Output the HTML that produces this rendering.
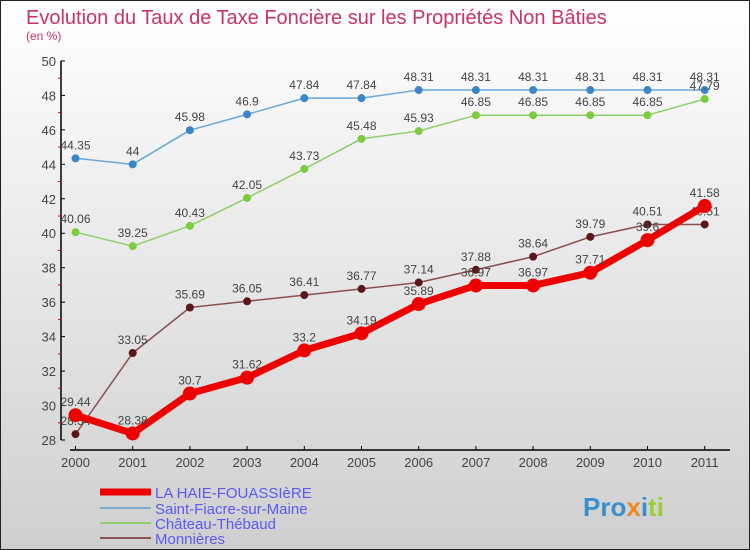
<!DOCTYPE html>
<html><head><meta charset="utf-8"><style>
body{margin:0}
#c{width:750px;height:550px;position:relative;overflow:hidden;font-family:"Liberation Sans",sans-serif}
</style></head><body>
<div id="c">
<svg id="s" width="750" height="550" xmlns="http://www.w3.org/2000/svg">
<defs><linearGradient id="bg" x1="0" y1="0" x2="0" y2="1"><stop offset="0" stop-color="#ffffff"/><stop offset="1" stop-color="#cfcfcf"/></linearGradient></defs>
<rect x="0.5" y="0.5" width="749" height="549" fill="url(#bg)" stroke="#222"/>
<text x="26" y="24" font-size="20" fill="#c8336a">Evolution du Taux de Taxe Foncière sur les Propriétés Non Bâties</text>
<text x="26" y="40" font-size="12" fill="#c8336a">(en %)</text>
<g id="axes"></g><g id="series"></g>
<g>
<line x1="100" y1="492" x2="151" y2="492" stroke="#ee0000" stroke-width="7"/>
<text x="155" y="498" font-size="15" fill="#5a5af0">LA HAIE-FOUASSIèRE</text>
<line x1="100" y1="508" x2="151" y2="508" stroke="#7aaed0" stroke-width="2"/>
<text x="155" y="514" font-size="15" fill="#5a5af0">Saint-Fiacre-sur-Maine</text>
<line x1="100" y1="523" x2="151" y2="523" stroke="#90d070" stroke-width="2"/>
<text x="155" y="529" font-size="15" fill="#5a5af0">Château-Thébaud</text>
<line x1="100" y1="538" x2="151" y2="538" stroke="#8a5555" stroke-width="2"/>
<text x="155" y="544" font-size="15" fill="#5a5af0">Monnières</text>
</g>
<g font-size="26" font-weight="bold">
<text x="583" y="516"><tspan fill="#3a8fd0">Pro</tspan><tspan fill="#f08a20">x</tspan><tspan fill="#3a8fd0">i</tspan><tspan fill="#9acd32">ti</tspan></text>
</g>
</svg></div>
<script>
const years=["2000","2001","2002","2003","2004","2005","2006","2007","2008","2009","2010","2011"];
const laHaie=[29.44,28.38,30.7,31.62,33.2,34.19,35.89,36.97,36.97,37.71,39.6,41.58];
const saintFiacre=[44.35,44,45.98,46.9,47.84,47.84,48.31,48.31,48.31,48.31,48.31,48.31];
const chateau=[40.06,39.25,40.43,42.05,43.73,45.48,45.93,46.85,46.85,46.85,46.85,47.79];
const monnieres=[28.34,33.05,35.69,36.05,36.41,36.77,37.14,37.88,38.64,39.79,40.51,40.51];
const yTicks=[28,30,32,34,36,38,40,42,44,46,48,50];
const NS="http://www.w3.org/2000/svg";
const x=i=>75.5+i*57.2;
const y=v=>440-(v-28)*17.23;
function mk(t,a,p){const e=document.createElementNS(NS,t);for(const k in a)e.setAttribute(k,a[k]);p.appendChild(e);return e;}
const ax=document.getElementById('axes');
let l=mk('line',{x1:61,y1:y(50),x2:61,y2:y(28),stroke:'#000','stroke-width':1.5},ax);


yTicks.forEach(v=>{
 mk('line',{x1:61,y1:y(v),x2:65,y2:y(v),stroke:'#000'},ax);
 if(v<50){mk('line',{x1:58,y1:y(v+1),x2:61,y2:y(v+1),stroke:'#e00'},ax);}
 const t=mk('text',{x:56,y:y(v)+5,'font-size':13,fill:'#444','text-anchor':'end'},ax);t.textContent=v;
 
 
});
l=mk('line',{x1:70,y1:450,x2:730,y2:450,stroke:'#000','stroke-width':1.5},ax);


years.forEach((yr,i)=>{
 mk('line',{x1:x(i),y1:446,x2:x(i),y2:450,stroke:'#000'},ax);
 const t=mk('text',{x:x(i),y:467,'font-size':13,fill:'#444','text-anchor':'middle'},ax);t.textContent=yr;
 
 
});
const sg=document.getElementById('series');
function draw(vals,name,color,w,r,dot){
 const g=mk('g',{},sg);
 
 
 const p=mk('polyline',{points:vals.map((v,i)=>x(i)+','+y(v)).join(' '),fill:'none',stroke:color,'stroke-width':w,'stroke-linejoin':'round'},g);
 
 
 vals.forEach((v,i)=>{
  const c=mk('circle',{cx:x(i),cy:y(v),r:r,fill:dot},g);
  
  
  const t=mk('text',{x:x(i),y:y(v)-9,'font-size':12,fill:'#444','text-anchor':'middle'},g);t.textContent=v;
  
  
 });
}
draw(saintFiacre,'saint-fiacre','#6aa8d8',1.5,4,'#3a86c8');
draw(chateau,'chateau-thebaud','#8ecf6a',1.5,4,'#7ccc40');
draw(monnieres,'monnieres','#8a5050',1.5,4,'#5a1818');
draw(laHaie,'la-haie','#ee0000',7,7,'#ee0000');
</script>
</body></html>
